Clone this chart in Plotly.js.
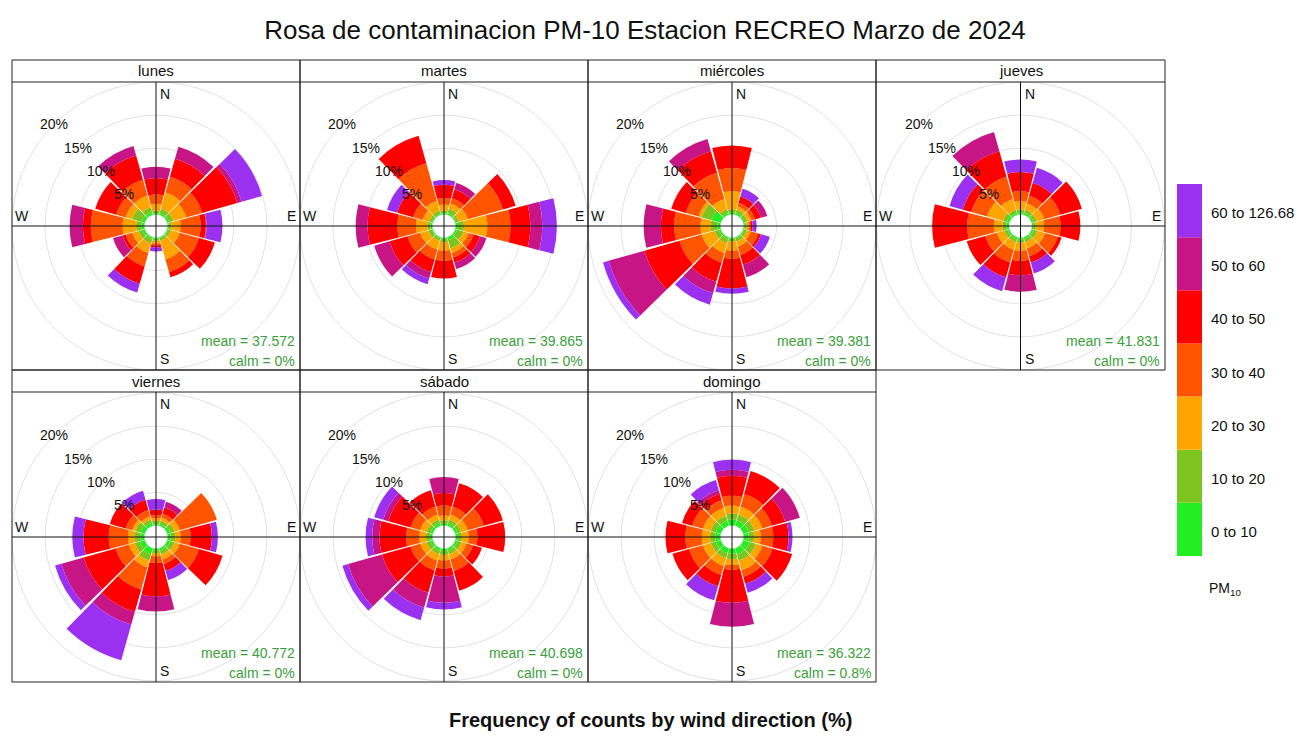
<!DOCTYPE html>
<html>
<head>
<meta charset="utf-8">
<script src="https://cdn.plot.ly/plotly-3.0.1.min.js"></script>
<style>html,body{margin:0;padding:0;background:#fff;}#chart{width:1313px;height:736px;}</style>
</head>
<body>
<div id="chart"></div>
<script>
// ---------------- DATA ----------------
const chartTitle = 'Rosa de contaminacion PM-10 Estacion RECREO Marzo de 2024';
const xCaption = 'Frequency of counts by wind direction (%)';
const dayNames = ['lunes', 'martes', 'miércoles', 'jueves', 'viernes', 'sábado', 'domingo'];
const meanValues = ['37.572', '39.865', '39.381', '41.831', '40.772', '40.698', '36.322'];
const calmValues = ['0%', '0%', '0%', '0%', '0%', '0%', '0.8%'];
const directions = [0, 30, 60, 90, 120, 150, 180, 210, 240, 270, 300, 330];
const binLabels = ['0 to 10', '10 to 20', '20 to 30', '30 to 40', '40 to 50', '50 to 60', '60 to 126.68'];
const binColors = ['#22EE22', '#7CC520', '#FFA500', '#FF5500', '#FF0000', '#C71585', '#9B30F0'];
const radialTicks = [5, 10, 15, 20];

// percent of counts per direction (rows = directions N..330, columns = concentration bins)
const lunes = [
  [0.2, 0.4, 1.0, 1.4, 2.5, 1.7, 0],
  [0.3, 0.7, 2.5, 2.5, 2.8, 1.9, 0],
  [0.3, 0.7, 2.0, 2.5, 5.5, 0.7, 3.2],
  [0.2, 0.4, 1.4, 3.0, 0.8, 0.1, 2.4],
  [0.2, 0.4, 1.4, 3.0, 2.5, 0, 0],
  [0.2, 0.4, 2.9, 2.0, 0.8, 0, 0],
  [0.2, 0.3, 0.4, 0.3, 0.3, 0, 0.6],
  [0.3, 0.7, 1.5, 2.1, 2.7, 0, 1.4],
  [0.4, 0.6, 1.0, 1.0, 0.5, 1.5, 0],
  [0.5, 0.8, 2.0, 4.8, 1.2, 2.0, 0],
  [0.5, 1.5, 1.0, 1.5, 3.3, 0, 0],
  [0.4, 0.8, 1.8, 2.5, 3.8, 1.5, 0]
];
const martes = [
  [0.2, 0.4, 0.9, 1.0, 2.0, 0, 0.7],
  [0.3, 0.7, 0.8, 0.8, 1.4, 1.0, 0],
  [0.2, 0.4, 1.4, 5.5, 2.0, 0, 0],
  [0.4, 0.9, 3.5, 3.5, 3.0, 1.8, 2.2],
  [0.3, 1.0, 0.8, 0.8, 1.0, 1.0, 0],
  [0.5, 1.3, 0.7, 0.7, 0.8, 1.0, 0],
  [0.2, 0.5, 1.3, 1.5, 2.7, 0, 0],
  [0.2, 0.4, 1.4, 1.5, 2.0, 1.0, 0.9],
  [0.2, 0.5, 1.3, 2.0, 2.8, 2.4, 0],
  [0.3, 0.5, 1.7, 2.8, 4.5, 1.8, 0],
  [0.2, 0.4, 1.0, 1.5, 2.5, 0, 1.6],
  [0.2, 0.5, 1.5, 5.9, 4.3, 0, 0]
];
const miercoles = [
  [0.3, 0.5, 2.7, 3.5, 3.4, 0, 0],
  [0.3, 0.5, 0.5, 0.6, 1.0, 0, 1.2],
  [0.2, 0.5, 0.6, 0.6, 0.9, 1.0, 0],
  [0.2, 0.3, 0.3, 0.3, 0.3, 0, 0.6],
  [0.2, 0.4, 0.6, 1.2, 0.4, 0, 1.4],
  [0.2, 0.5, 0.8, 1.3, 1.5, 2.0, 0],
  [0.2, 0.4, 1.4, 1.2, 4.5, 0, 0.8],
  [0.3, 0.7, 1.5, 1.5, 3.0, 1.8, 1.8],
  [0.3, 0.7, 2.0, 3.5, 5.5, 5.6, 0.9],
  [0.5, 1.0, 1.5, 4.0, 2.0, 2.6, 0],
  [1.5, 1.5, 0.5, 2.0, 2.3, 0, 0],
  [0.3, 0.6, 1.6, 4.1, 3.4, 1.9, 0]
];
const jueves = [
  [0.3, 0.5, 1.2, 1.5, 2.9, 0, 1.9],
  [0.3, 0.5, 1.0, 1.2, 2.0, 0, 2.4],
  [0.3, 0.5, 1.2, 2.5, 3.4, 0, 0],
  [0.2, 0.4, 1.2, 2.5, 3.0, 0, 0],
  [0.3, 0.6, 1.2, 2.0, 0.6, 0, 0],
  [0.3, 0.5, 1.0, 1.2, 1.0, 0, 1.7],
  [0.3, 0.5, 1.2, 1.5, 2.2, 2.5, 0],
  [0.3, 0.5, 1.2, 2.0, 2.3, 0, 2.2],
  [0.3, 0.5, 1.2, 1.8, 2.9, 0, 0],
  [0.4, 0.6, 1.3, 4.0, 5.3, 0, 0],
  [0.4, 0.6, 2.5, 2.5, 1.3, 0, 2.1],
  [0.3, 0.5, 1.7, 3.5, 4.0, 3.0, 0]
];
const viernes = [
  [0.2, 0.5, 0.4, 0.5, 0.8, 0, 1.6],
  [0.3, 0.5, 0.5, 0.6, 1.0, 0.9, 0],
  [0.5, 0.7, 0.8, 5.8, 0, 0, 0],
  [0.5, 0.7, 0.8, 1.5, 3.2, 0, 0.9],
  [0.5, 0.7, 0.8, 3.0, 3.7, 0, 0],
  [0.4, 0.6, 0.8, 0.7, 1.1, 0, 1.4],
  [0.3, 0.4, 0.5, 1.0, 5.0, 2.3, 0],
  [1.0, 1.0, 1.0, 3.5, 3.5, 2.0, 5.6],
  [0.8, 0.8, 0.9, 2.1, 5.0, 3.5, 1.0],
  [0.6, 0.9, 1.0, 2.9, 3.8, 0, 1.7],
  [0.7, 0.8, 0.5, 1.0, 2.5, 0, 0],
  [0.5, 0.5, 0.5, 1.0, 1.6, 0, 1.4]
];
const sabado = [
  [0.3, 0.5, 0.7, 1.5, 1.9, 2.4, 0],
  [0.4, 0.6, 0.8, 1.2, 3.7, 0, 0],
  [0.4, 0.6, 1.0, 2.5, 3.0, 0, 0],
  [0.4, 0.6, 1.0, 1.3, 4.2, 0, 0],
  [0.4, 0.6, 0.8, 1.0, 1.4, 0, 0],
  [0.4, 0.6, 0.8, 1.8, 3.1, 0, 0],
  [0.4, 0.6, 0.8, 1.2, 1.2, 4.0, 1.0],
  [0.4, 0.6, 1.0, 1.5, 3.5, 2.3, 2.0],
  [0.4, 0.6, 1.0, 1.5, 4.5, 5.3, 0.9],
  [0.4, 0.6, 1.0, 2.0, 4.0, 1.1, 1.0],
  [0.4, 0.6, 1.0, 1.5, 3.5, 0.8, 1.4],
  [0.4, 0.6, 0.8, 1.2, 2.6, 0, 0]
];
const domingo = [
  [0.9, 0.9, 1.2, 1.5, 3.0, 0.9, 1.5],
  [0.9, 0.9, 1.2, 2.0, 3.6, 0, 0],
  [0.9, 0.9, 1.2, 1.5, 2.1, 2.3, 0],
  [0.8, 0.8, 1.0, 1.9, 2.3, 0, 0.6],
  [1.0, 1.0, 1.0, 1.6, 3.1, 0, 0],
  [1.0, 1.0, 1.5, 1.0, 1.1, 0, 1.4],
  [0.8, 0.8, 0.9, 0.7, 5.0, 3.6, 0],
  [0.8, 0.8, 1.2, 1.4, 1.8, 0, 2.2],
  [0.8, 0.8, 1.2, 2.2, 2.6, 0, 0],
  [0.8, 0.8, 1.2, 2.5, 3.0, 0, 0],
  [0.8, 0.8, 1.2, 1.7, 1.6, 0, 0],
  [0.8, 0.8, 1.2, 1.2, 1.0, 0.6, 1.6]
];
const dayData = [lunes, martes, miercoles, jueves, viernes, sabado, domingo];

// ---------------- LAYOUT HELPERS ----------------
const W = 1313, H = 736;
const px = x => x / W;
const py = y => 1 - y / H;
const colX = [[12, 300], [300, 588], [588, 876], [876, 1165]];
const rows = [{ top: 60, strip: 82, bottom: 370 }, { top: 370, strip: 392, bottom: 682 }];
const HOLE = 0.08, RMAX = 20;
const FONT = 'Liberation Sans, Arial, sans-serif';
const GREEN_TXT = '#3A9F3A';

const traces = [];
const shapes = [];
const annotations = [];
const layout = {
  width: W, height: H,
  margin: { l: 0, r: 0, t: 0, b: 0 },
  paper_bgcolor: '#ffffff',
  showlegend: false,
  font: { family: FONT, color: '#000' },
  title: { text: chartTitle, x: px(645), xanchor: 'center', y: py(30), yanchor: 'middle', font: { family: FONT, size: 26, color: '#111' } }
};

dayNames.forEach((name, d) => {
  const r = d < 4 ? 0 : 1, c = d % 4;
  const [x0, x1] = colX[c];
  const row = rows[r];
  const y0 = row.strip, y1 = row.bottom;
  const cx = (x0 + x1) / 2, cy = (y0 + y1) / 2;
  const R = Math.min(x1 - x0, y1 - y0) / 2;
  const pid = d === 0 ? 'polar' : 'polar' + (d + 1);

  layout[pid] = {
    domain: { x: [px(x0), px(x1)], y: [py(y1), py(y0)] },
    hole: HOLE,
    bgcolor: 'rgba(0,0,0,0)',
    barmode: 'stack',
    bargap: 0,
    radialaxis: {
      range: [0, RMAX], tickvals: radialTicks, showticklabels: false, ticks: '',
      showline: false, showgrid: true, gridcolor: '#e2e2e2', gridwidth: 1, layer: 'below traces'
    },
    angularaxis: {
      direction: 'clockwise', rotation: 90, showgrid: false, showticklabels: false, ticks: '',
      showline: true, linecolor: '#e2e2e2', linewidth: 1, layer: 'below traces'
    }
  };

  const data = dayData[d];
  binLabels.forEach((lab, b) => {
    traces.push({
      type: 'barpolar',
      subplot: pid,
      name: lab,
      theta: directions,
      r: data.map(rw => rw[b]),
      width: directions.map(() => 28.5),
      marker: { color: binColors[b], line: { width: 0 } },
      hoverinfo: 'skip'
    });
  });

  // panel frame + strip
  shapes.push({ type: 'rect', xref: 'paper', yref: 'paper', x0: px(x0), x1: px(x1), y0: py(y1), y1: py(row.top), line: { color: '#222', width: 1 }, fillcolor: 'rgba(0,0,0,0)' });
  shapes.push({ type: 'line', xref: 'paper', yref: 'paper', x0: px(x0), x1: px(x1), y0: py(y0), y1: py(y0), line: { color: '#222', width: 1 } });
  annotations.push({ xref: 'paper', yref: 'paper', x: px(cx), y: py((row.top + y0) / 2), text: name, showarrow: false, xanchor: 'center', yanchor: 'middle', font: { family: FONT, size: 15, color: '#111' } });

  // crosshair
  shapes.push({ type: 'line', xref: 'paper', yref: 'paper', x0: px(cx), x1: px(cx), y0: py(y0), y1: py(y1), line: { color: '#111', width: 1 }, layer: 'above' });
  shapes.push({ type: 'line', xref: 'paper', yref: 'paper', x0: px(x0), x1: px(x1), y0: py(cy), y1: py(cy), line: { color: '#111', width: 1 }, layer: 'above' });

  // compass letters
  const lf = { family: FONT, size: 14, color: '#111' };
  annotations.push({ xref: 'paper', yref: 'paper', x: px(cx + 2), y: py(y0 + 2), text: 'N', showarrow: false, xanchor: 'left', yanchor: 'top', font: lf });
  annotations.push({ xref: 'paper', yref: 'paper', x: px(cx + 2), y: py(y1 - 1), text: 'S', showarrow: false, xanchor: 'left', yanchor: 'bottom', font: lf });
  annotations.push({ xref: 'paper', yref: 'paper', x: px(x0 + 1), y: py(cy), text: 'W', showarrow: false, xanchor: 'left', yanchor: 'bottom', font: lf });
  annotations.push({ xref: 'paper', yref: 'paper', x: px(x1 - 2), y: py(cy), text: 'E', showarrow: false, xanchor: 'right', yanchor: 'bottom', font: lf });

  // percent labels along NW
  radialTicks.forEach(t => {
    const rr = R * (HOLE + (1 - HOLE) * t / RMAX);
    annotations.push({ xref: 'paper', yref: 'paper', x: px(cx - rr * Math.SQRT1_2), y: py(cy - rr * Math.SQRT1_2), text: t + '%', showarrow: false, xanchor: 'center', yanchor: 'middle', font: { family: FONT, size: 14, color: '#111' } });
  });

  // mean / calm
  annotations.push({ xref: 'paper', yref: 'paper', x: px(x1 - 3), y: py(y1 - 29), text: 'mean = ' + meanValues[d], showarrow: false, xanchor: 'right', yanchor: 'middle', font: { family: FONT, size: 14, color: GREEN_TXT } });
  annotations.push({ xref: 'paper', yref: 'paper', x: px(x1 - 3), y: py(y1 - 9), text: 'calm = ' + calmValues[d], showarrow: false, xanchor: 'right', yanchor: 'middle', font: { family: FONT, size: 14, color: GREEN_TXT } });
});

// legend key (top = highest bin)
const keyX0 = 1177, keyX1 = 1202, keyTop = 184, keyBottom = 556;
const nb = binLabels.length, bh = (keyBottom - keyTop) / nb;
binLabels.forEach((lab, b) => {
  const i = nb - 1 - b;
  const t = keyTop + i * bh;
  shapes.push({ type: 'rect', xref: 'paper', yref: 'paper', x0: px(keyX0), x1: px(keyX1), y0: py(t + bh), y1: py(t), fillcolor: binColors[b], line: { width: 0 } });
  annotations.push({ xref: 'paper', yref: 'paper', x: px(1209), y: py(t + bh / 2 + 2), text: lab, showarrow: false, xanchor: 'left', yanchor: 'middle', font: { family: FONT, size: 15, color: '#111' } });
});
annotations.push({ xref: 'paper', yref: 'paper', x: px(1207), y: py(589), text: 'PM<sub>10</sub>', showarrow: false, xanchor: 'left', yanchor: 'middle', font: { family: FONT, size: 14, color: '#111' } });

// bottom caption
annotations.push({ xref: 'paper', yref: 'paper', x: px(650), y: py(720), text: '<b>' + xCaption + '</b>', showarrow: false, xanchor: 'center', yanchor: 'middle', font: { family: FONT, size: 20, color: '#111' } });

layout.shapes = shapes;
layout.annotations = annotations;

Plotly.newPlot('chart', traces, layout, { displayModeBar: false, staticPlot: true });
</script>
</body>
</html>
